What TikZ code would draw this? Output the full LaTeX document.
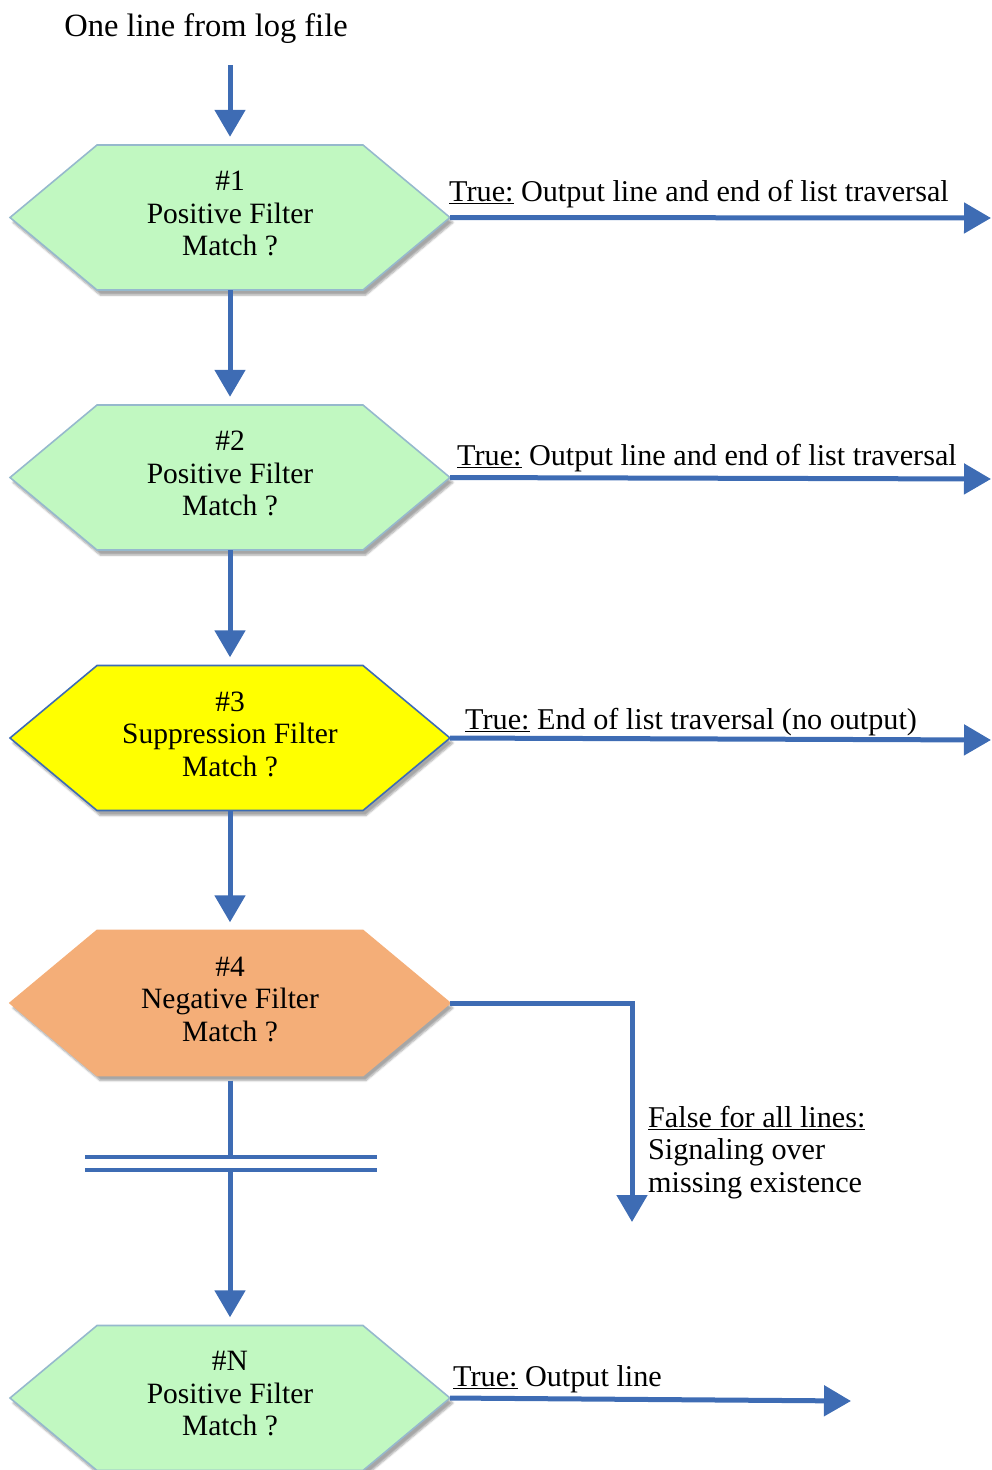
\documentclass[tikz,border=0pt]{standalone}
\usepackage{fontspec}
\setmainfont{Liberation Serif}
\usetikzlibrary{arrows.meta,shadows.blur}
\definecolor{flowblue}{RGB}{62,108,180}
\definecolor{hexgreen}{RGB}{193,248,193}
\definecolor{hexgreenline}{RGB}{150,185,205}
\definecolor{hexyellow}{RGB}{255,255,0}
\definecolor{hexorange}{RGB}{244,174,120}
\newcommand\hexpath[4]{%
  \path[fill=#3, draw=#4, line width=1.6pt, line join=miter,
        blur shadow={shadow xshift=3pt, shadow yshift=-5pt, shadow blur steps=6, shadow opacity=35}]
    (10,#2) -- (97,{#2+72.5}) -- (363,{#2+72.5}) -- (450,#2) -- (363,{#2-72.5}) -- (97,{#2-72.5}) -- cycle;
  \node[hexnode] (#1) at (230,#2) {};
}
\tikzset{
  hexnode/.style={minimum width=440pt, minimum height=145pt, inner sep=0pt, draw=none},
  hextext/.style={font=\fontsize{29.5}{32.5}\selectfont, align=center, inner sep=0pt, yshift=4pt},
  lbl/.style={font=\fontsize{30.2}{32.5}\selectfont, inner sep=0pt},
  flow/.style={draw=flowblue, line width=5pt, -{Triangle[width=30pt,length=27pt]}},
  flowline/.style={draw=flowblue, line width=5pt},
  breakline/.style={draw=flowblue, line width=3.5pt}
}
\begin{document}
\begin{tikzpicture}[x=1pt,y=1pt]
\useasboundingbox (0,0) rectangle (991,-1470);

\node[font=\fontsize{32.5}{36}\selectfont, anchor=base, inner sep=0pt] (title) at (206,-36) {One line from log file};
\coordinate (start) at (230,-65);

\hexpath{h1}{-217.5}{hexgreen}{hexgreenline}
\node[hextext] at (h1) {\#1\\Positive Filter\\Match ?};
\hexpath{h2}{-477.5}{hexgreen}{hexgreenline}
\node[hextext] at (h2) {\#2\\Positive Filter\\Match ?};
\hexpath{h3}{-738}{hexyellow}{flowblue}
\node[hextext] at (h3) {\#3\\Suppression Filter\\Match ?};
\hexpath{h4}{-1003}{hexorange}{hexorange}
\node[hextext] at (h4) {\#4\\Negative Filter\\Match ?};
\hexpath{hN}{-1398}{hexgreen}{hexgreenline}
\node[hextext] at (hN) {\#N\\Positive Filter\\Match ?};

% vertical flow
\draw[flow, shorten >=8pt] (start) -- (h1.north);
\draw[flow, shorten >=8pt] (h1.south) -- (h2.north);
\draw[flow, shorten >=8pt] (h2.south) -- (h3.north);
\draw[flow, shorten >=8pt] (h3.south) -- (h4.north);

% break
\coordinate (b1) at (230,-1157);
\coordinate (b2) at (230,-1170);
\coordinate (bl1) at (85,-1157);
\coordinate (br1) at (377,-1157);
\coordinate (bl2) at (85,-1170);
\coordinate (br2) at (377,-1170);
\draw[flowline] ([yshift=-5pt]h4.south) -- (b1);
\draw[breakline] (bl1) -- (br1);
\draw[breakline] (bl2) -- (br2);
\draw[flow, shorten >=8pt] (b2) -- (hN.north);

% right outputs
\coordinate (o1) at (991,-218);
\coordinate (o2) at (991,-479);
\coordinate (o3) at (991,-740);
\coordinate (oN) at (851,-1401);
\draw[flow] (h1.east) -- (o1);
\draw[flow] (h2.east) -- (o2);
\draw[flow] (h3.east) -- (o3);
\draw[flow] (hN.east) -- (oN);
\coordinate (c4) at (632,-1003);
\coordinate (f4) at (632,-1222);
\draw[flow, line join=miter] (h4.east) -- (c4) -- (f4);

% labels
\node[lbl, anchor=base west] (t1) at (449,-201) {\underline{True:} Output line and end of list traversal};
\node[lbl, anchor=base west] (t2) at (457,-465) {\underline{True:} Output line and end of list traversal};
\node[lbl, anchor=base west] (t3) at (465,-729) {\underline{True:} End of list traversal (no output)};
\node[lbl, anchor=base west] (tN) at (453,-1386) {\underline{True:} Output line};
\node[lbl, anchor=base west] (f1) at (648,-1127) {\underline{False for all lines:}};
\node[lbl, anchor=base west] (f2) at (648,-1159.5) {Signaling over};
\node[lbl, anchor=base west] (f3) at (648,-1192) {missing existence};
\end{tikzpicture}
\end{document}
